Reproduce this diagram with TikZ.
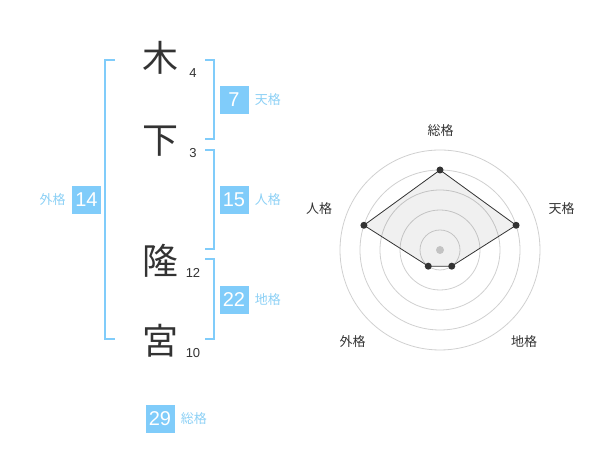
\documentclass[tikz,border=0pt]{standalone}
\usepackage{fontspec}
\setmainfont{Liberation Sans}
\newfontfamily\jp{Noto Sans CJK JP}
\usetikzlibrary{calc}
\usetikzlibrary{positioning}

\definecolor{skyblue}{RGB}{128,204,250}
\definecolor{palesky}{RGB}{140,208,245}
\definecolor{inkgray}{RGB}{51,51,51}
\definecolor{ringgray}{RGB}{208,208,208}

\begin{document}
\begin{tikzpicture}[
    x=1pt, y=1pt,
    kanji/.style={
      text=inkgray, inner sep=0pt, font=\fontsize{36}{36}\selectfont\jp
    },
    strokes/.style={
      text=inkgray, inner sep=0pt, font=\fontsize{13}{13}\selectfont
    },
    bracket/.style={
      draw=skyblue, line width=2pt
    },
    scorebox/.style={
      fill=skyblue, text=white, inner sep=0pt,
      minimum width=29pt, minimum height=28pt, font=\fontsize{20}{20}\selectfont
    },
    kaku/.style={
      text=palesky, inner sep=0pt, font=\fontsize{13}{13}\selectfont\jp
    },
    ring/.style={
      draw=ringgray, line width=0.8pt
    },
    axislabel/.style={
      text=inkgray, inner sep=0pt, font=\fontsize{13}{13}\selectfont\jp
    },
    dot/.style={
      circle, fill=inkgray, inner sep=0pt, minimum size=7pt
    }
  ]
    \useasboundingbox (0,0) rectangle (600,470);

    % name column
    \node[kanji] (KA) at (160,412) {木};
    \node[kanji] (KB) at (160,329) {下};
    \node[kanji] (KC) at (160,209) {隆};
    \node[kanji] (KD) at (160,129) {宮};

    \node[strokes] (NA) at (193,397) {4};
    \node[strokes] (NB) at (193,317) {3};
    \node[strokes] (NC) at (193,197) {12};
    \node[strokes] (ND) at (193,117) {10};

    % brackets
    \draw[bracket] (115,410) -- (105,410) -- (105,131) -- (115,131);
    \draw[bracket] (205,410) -- (214,410) -- (214,331) -- (205,331);
    \draw[bracket] (205,320) -- (214,320) -- (214,221) -- (205,221);
    \draw[bracket] (205,211) -- (214,211) -- (214,131) -- (205,131);

    % scores
    \node[scorebox] (TEN) at (234,370) {7};
    \node[kaku, right=6pt of TEN] {天格};

    \node[scorebox] (JIN) at (234,270) {15};
    \node[kaku, right=6pt of JIN] {人格};

    \node[scorebox] (GAI) at (86.5,270) {14};
    \node[kaku, left=6pt of GAI] {外格};

    \node[scorebox] (CHI) at (234,170) {22};
    \node[kaku, right=6pt of CHI] {地格};

    \node[scorebox] (SOU) at (160,51) {29};
    \node[kaku, right=6pt of SOU] {総格};

    % radar chart
    \coordinate (CC) at (440,220);
    \foreach \r in {20,40,...,100}
      \draw[ring] (CC) circle (\r);

    \coordinate (PS) at ($(CC)+(90:80)$);
    \coordinate (PT) at ($(CC)+(18:80)$);
    \coordinate (PC) at ($(CC)+(-54:20)$);
    \coordinate (PG) at ($(CC)+(-126:20)$);
    \coordinate (PJ) at ($(CC)+(162:80)$);

    \fill[ringgray] (CC) circle (4);
    \draw[fill=black, fill opacity=0.06, draw=inkgray, line width=0.8pt]
      (PS) -- (PT) -- (PC) -- (PG) -- (PJ) -- cycle;
    \foreach \p in {PS,PT,PC,PG,PJ}
      \node[dot] at (\p) {};

    \node[axislabel] (LS) at (440.5,339) {総格};
    \node[axislabel] (LT) at (561.5,261.5) {天格};
    \node[axislabel] (LC) at (524,128) {地格};
    \node[axislabel] (LG) at (352.5,128) {外格};
    \node[axislabel] (LJ) at (319,261.5) {人格};
  \end{tikzpicture}
\end{document}
